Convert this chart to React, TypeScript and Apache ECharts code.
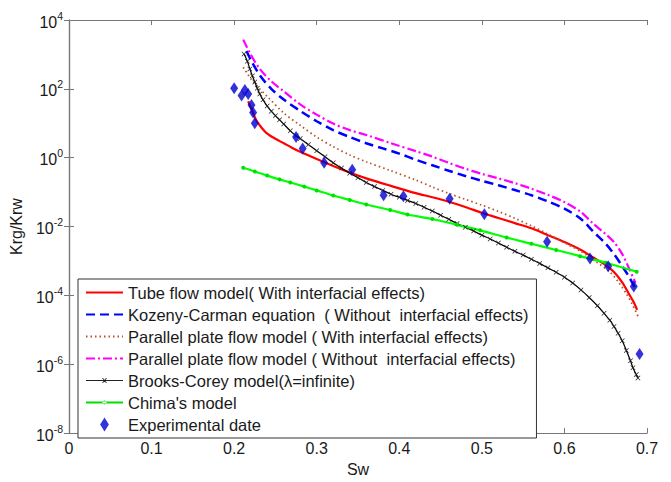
import React, { useEffect, useRef } from "react";
import * as echarts from "echarts";

// Sw values and log10(Krg/Krw) values
const tubeSw = [0.217, 0.222, 0.227, 0.234, 0.24, 0.25, 0.26, 0.27, 0.28, 0.3, 0.32, 0.34, 0.36, 0.39, 0.42, 0.44, 0.46, 0.48, 0.5, 0.52, 0.54, 0.56, 0.58, 0.6, 0.62, 0.635, 0.65, 0.66, 0.67, 0.678, 0.684, 0.688];
const tubeLog = [1.64, 1.35, 1.08, 0.85, 0.7, 0.55, 0.42, 0.29, 0.17, -0.04, -0.24, -0.43, -0.6, -0.82, -1.03, -1.15, -1.28, -1.43, -1.6, -1.75, -1.9, -2.05, -2.25, -2.45, -2.68, -2.9, -3.12, -3.32, -3.62, -3.95, -4.2, -4.42];

const kozenySw = [0.215, 0.22, 0.231, 0.245, 0.26, 0.28, 0.3, 0.32, 0.34, 0.36, 0.38, 0.4, 0.42, 0.44, 0.46, 0.48, 0.5, 0.52, 0.54, 0.56, 0.58, 0.6, 0.62, 0.635, 0.65, 0.66, 0.67, 0.678, 0.686];
const kozenyLog = [3.1, 2.85, 2.4, 2.0, 1.69, 1.36, 1.06, 0.8, 0.6, 0.42, 0.27, 0.12, -0.06, -0.22, -0.38, -0.53, -0.67, -0.8, -0.94, -1.09, -1.27, -1.48, -1.78, -2.15, -2.5, -2.8, -3.15, -3.45, -3.8];

const plateWithSw = [0.211, 0.22, 0.23, 0.24, 0.26, 0.28, 0.3, 0.32, 0.34, 0.36, 0.39, 0.42, 0.44, 0.46, 0.48, 0.5, 0.52, 0.54, 0.56, 0.58, 0.6, 0.62, 0.64, 0.655, 0.665, 0.675, 0.682, 0.689];
const plateWithLog = [2.63, 2.3, 2.02, 1.78, 1.3, 0.94, 0.6, 0.32, 0.08, -0.12, -0.38, -0.65, -0.85, -1.04, -1.21, -1.38, -1.56, -1.76, -1.98, -2.22, -2.47, -2.72, -3.05, -3.32, -3.6, -3.95, -4.25, -4.6];

const plateWithoutSw = [0.211, 0.22, 0.231, 0.245, 0.26, 0.28, 0.3, 0.32, 0.34, 0.36, 0.39, 0.42, 0.44, 0.46, 0.48, 0.5, 0.52, 0.54, 0.56, 0.58, 0.6, 0.62, 0.635, 0.65, 0.66, 0.67, 0.678, 0.686];
const plateWithoutLog = [3.43, 3.0, 2.58, 2.22, 1.93, 1.55, 1.25, 0.99, 0.8, 0.66, 0.42, 0.19, 0.03, -0.15, -0.32, -0.47, -0.6, -0.74, -0.9, -1.08, -1.29, -1.58, -1.92, -2.22, -2.45, -2.8, -3.2, -3.64];

const brooksSw = [0.212, 0.216, 0.219, 0.222, 0.225, 0.228, 0.231, 0.235, 0.24, 0.245, 0.25, 0.255, 0.26, 0.268, 0.275, 0.28, 0.29, 0.3, 0.31, 0.32, 0.33, 0.34, 0.35, 0.36, 0.37, 0.38, 0.39, 0.4, 0.41, 0.42, 0.43, 0.44, 0.45, 0.46, 0.47, 0.48, 0.49, 0.5, 0.51, 0.52, 0.53, 0.54, 0.55, 0.56, 0.57, 0.58, 0.59, 0.6, 0.61, 0.62, 0.63, 0.64, 0.648, 0.655, 0.66, 0.665, 0.67, 0.675, 0.68, 0.683, 0.687, 0.689];
const brooksLog = [3.01, 2.8, 2.58, 2.38, 2.2, 2.02, 1.85, 1.68, 1.5, 1.35, 1.22, 1.1, 0.98, 0.78, 0.64, 0.56, 0.38, 0.2, 0.03, -0.15, -0.3, -0.45, -0.58, -0.72, -0.84, -0.95, -1.06, -1.15, -1.24, -1.33, -1.44, -1.55, -1.67, -1.79, -1.91, -2.02, -2.13, -2.25, -2.36, -2.48, -2.6, -2.72, -2.83, -2.95, -3.07, -3.2, -3.33, -3.47, -3.64, -3.84, -4.06, -4.3, -4.52, -4.72, -4.9, -5.1, -5.32, -5.6, -5.9, -6.1, -6.3, -6.4];

const chimaSw = [0.211, 0.225, 0.24, 0.255, 0.268, 0.285, 0.3, 0.32, 0.34, 0.36, 0.389, 0.41, 0.44, 0.47, 0.498, 0.53, 0.56, 0.59, 0.619, 0.65, 0.6875];
const chimaLog = [-0.29, -0.4, -0.52, -0.63, -0.72, -0.84, -0.95, -1.1, -1.23, -1.36, -1.52, -1.65, -1.78, -1.95, -2.11, -2.32, -2.5, -2.68, -2.86, -3.05, -3.31];

const expSw = [0.2, 0.209, 0.213, 0.217, 0.221, 0.223, 0.225, 0.275, 0.283, 0.309, 0.343, 0.381, 0.405, 0.461, 0.503, 0.579, 0.631, 0.653, 0.684, 0.691];
const expLog = [2.02, 1.81, 1.97, 1.85, 1.53, 1.31, 1.0, 0.6, 0.27, -0.15, -0.35, -1.09, -1.12, -1.19, -1.64, -2.44, -2.93, -3.15, -3.74, -5.7];

const seriesNames = [
  "Tube flow model( With interfacial effects)",
  "Kozeny-Carman equation  ( Without  interfacial effects)",
  "Parallel plate flow model ( With interfacial effects)",
  "Parallel plate flow model ( Without  interfacial effects)",
  "Brooks-Corey model(\u03bb=infinite)",
  "Chima's model",
  "Experimental date",
];

const xTicks = { min: 0, max: 0.7, interval: 0.1 };
const yRange = { min: 1e-8, max: 1e4 };

const FONT = "'Liberation Sans', Arial, sans-serif";
const AXIS_COLOR = "#777";
const TEXT = "#1a1a1a";

const pairs = (xs: number[], ls: number[]) => xs.map((x, i) => [x, Math.pow(10, ls[i])]);

const X_PATH = "path://M0,1L1,0L5,4L9,0L10,1L6,5L10,9L9,10L5,6L1,10L0,9L4,5Z";
const DIAMOND = "path://M5,0L10,8L5,16L0,8Z";
const BROOKS_ICON =
  "path://M0,6.5L37,6.5L37,7.5L0,7.5Z M16,4.5L17,4.5L21,9.5L20,9.5Z M20,4.5L21,4.5L17,9.5L16,9.5Z";
const CHIMA_ICON =
  "path://M0,6L37,6L37,8L0,8Z M16.5,7A2,2 0 1,0 20.5,7A2,2 0 1,0 16.5,7Z";

export default function App() {
  const ref = useRef<HTMLDivElement>(null);
  useEffect(() => {
    if (!ref.current) return;
    const chart = echarts.init(ref.current, undefined, { renderer: "svg" });
    const yLabel = (v: number) => {
      const e = Math.round(Math.log10(v));
      return `{b|10}{s|${e}}`;
    };
    const hidden = { color: "rgba(0,0,0,0)", borderWidth: 0 };
    const option: any = {
      animation: false,
      backgroundColor: "#fff",
      grid: { left: 69, right: 24, top: 20, bottom: 38, containLabel: false },
      xAxis: [
        {
          type: "value",
          min: xTicks.min,
          max: xTicks.max,
          interval: xTicks.interval,
          name: "Sw",
          nameLocation: "middle",
          nameGap: 26,
          nameTextStyle: { fontSize: 16, fontFamily: FONT, color: TEXT },
          axisLine: { show: true, lineStyle: { color: AXIS_COLOR, width: 1.2 } },
          axisTick: { show: true, inside: true, length: 5, lineStyle: { color: AXIS_COLOR } },
          axisLabel: {
            fontSize: 16,
            fontFamily: FONT,
            color: TEXT,
            margin: 7,
            formatter: (v: number) => (v === 0 ? "0" : v.toFixed(1)),
          },
          splitLine: { show: false },
        },
        {
          type: "value",
          position: "top",
          min: xTicks.min,
          max: xTicks.max,
          interval: xTicks.interval,
          axisLine: { show: true, lineStyle: { color: AXIS_COLOR, width: 1.2 } },
          axisTick: { show: true, inside: true, length: 5, lineStyle: { color: AXIS_COLOR } },
          axisLabel: { show: false },
          splitLine: { show: false },
        },
      ],
      yAxis: [
        {
          type: "log",
          logBase: 10,
          min: yRange.min,
          max: yRange.max,
          interval: 2,
          name: "Krg/Krw",
          nameLocation: "middle",
          nameGap: 40,
          nameTextStyle: { fontSize: 16, fontFamily: FONT, color: TEXT },
          axisLine: { show: true, lineStyle: { color: AXIS_COLOR, width: 1.2 } },
          axisTick: { show: true, inside: true, length: 5, lineStyle: { color: AXIS_COLOR } },
          minorTick: { show: false },
          axisLabel: {
            margin: 6,
            formatter: yLabel,
            rich: {
              b: { fontSize: 16, fontFamily: FONT, color: TEXT, lineHeight: 20, verticalAlign: "bottom" },
              s: { fontSize: 10.5, fontFamily: FONT, color: TEXT, lineHeight: 10, verticalAlign: "top" },
            },
          },
          splitLine: { show: false },
        },
        {
          type: "log",
          logBase: 10,
          position: "right",
          min: yRange.min,
          max: yRange.max,
          interval: 2,
          axisLine: { show: true, lineStyle: { color: AXIS_COLOR, width: 1.2 } },
          axisTick: { show: true, inside: true, length: 5, lineStyle: { color: AXIS_COLOR } },
          axisLabel: { show: false },
          splitLine: { show: false },
        },
      ],
      legend: {
        orient: "vertical",
        left: 78,
        top: 279,
        itemWidth: 37,
        itemHeight: 14,
        itemGap: 5,
        padding: [5, 8, 5, 7],
        backgroundColor: "#fff",
        borderColor: "#333",
        borderWidth: 1,
        borderRadius: 0,
        z: 20,
        textStyle: { fontSize: 16.5, fontFamily: FONT, color: TEXT, lineHeight: 17 },
        data: seriesNames.map((n, i) => {
          if (i === 4) return { name: n, icon: BROOKS_ICON };
          if (i === 5) return { name: n, icon: CHIMA_ICON };
          if (i === 6) return { name: n, icon: DIAMOND };
          return { name: n, itemStyle: hidden };
        }),
      },
      series: [
        {
          name: seriesNames[0],
          type: "line",
          data: pairs(tubeSw, tubeLog),
          symbol: "none",
          smooth: 0.3,
          lineStyle: { color: "#ff0000", width: 2.2 },
          itemStyle: { color: "#ff0000" },
        },
        {
          name: seriesNames[1],
          type: "line",
          data: pairs(kozenySw, kozenyLog),
          symbol: "none",
          smooth: 0.3,
          lineStyle: { color: "#0000ff", width: 2.5, type: [9, 5] },
          itemStyle: { color: "#0000ff" },
        },
        {
          name: seriesNames[2],
          type: "line",
          data: pairs(plateWithSw, plateWithLog),
          symbol: "none",
          smooth: 0.3,
          lineStyle: { color: "#b5532a", width: 1.8, type: [1.5, 3] },
          itemStyle: { color: "#b5532a" },
        },
        {
          name: seriesNames[3],
          type: "line",
          data: pairs(plateWithoutSw, plateWithoutLog),
          symbol: "none",
          smooth: 0.3,
          lineStyle: { color: "#ff00ff", width: 2.2, type: [9, 3, 2, 3] },
          itemStyle: { color: "#ff00ff" },
        },
        {
          name: seriesNames[4],
          type: "line",
          data: pairs(brooksSw, brooksLog),
          symbol: X_PATH,
          symbolSize: 5,
          showSymbol: true,
          smooth: 0.3,
          lineStyle: { color: "#000", width: 1.2 },
          itemStyle: { color: "#222" },
        },
        {
          name: seriesNames[5],
          type: "line",
          data: pairs(chimaSw, chimaLog),
          symbol: "circle",
          symbolSize: 4,
          showSymbol: true,
          smooth: 0.3,
          lineStyle: { color: "#00ff00", width: 2.2 },
          itemStyle: { color: "#00e000" },
        },
        {
          name: seriesNames[6],
          type: "scatter",
          data: pairs(expSw, expLog),
          symbol: DIAMOND,
          symbolSize: [8, 12],
          itemStyle: { color: "#0000d0" },
          z: 5,
        },
      ],
    };
    chart.setOption(option);
    return () => chart.dispose();
  }, []);
  return (
    <div
      ref={ref}
      style={{ position: "fixed", left: 0, top: 0, width: 671, height: 482, background: "#fff" }}
    />
  );
}
